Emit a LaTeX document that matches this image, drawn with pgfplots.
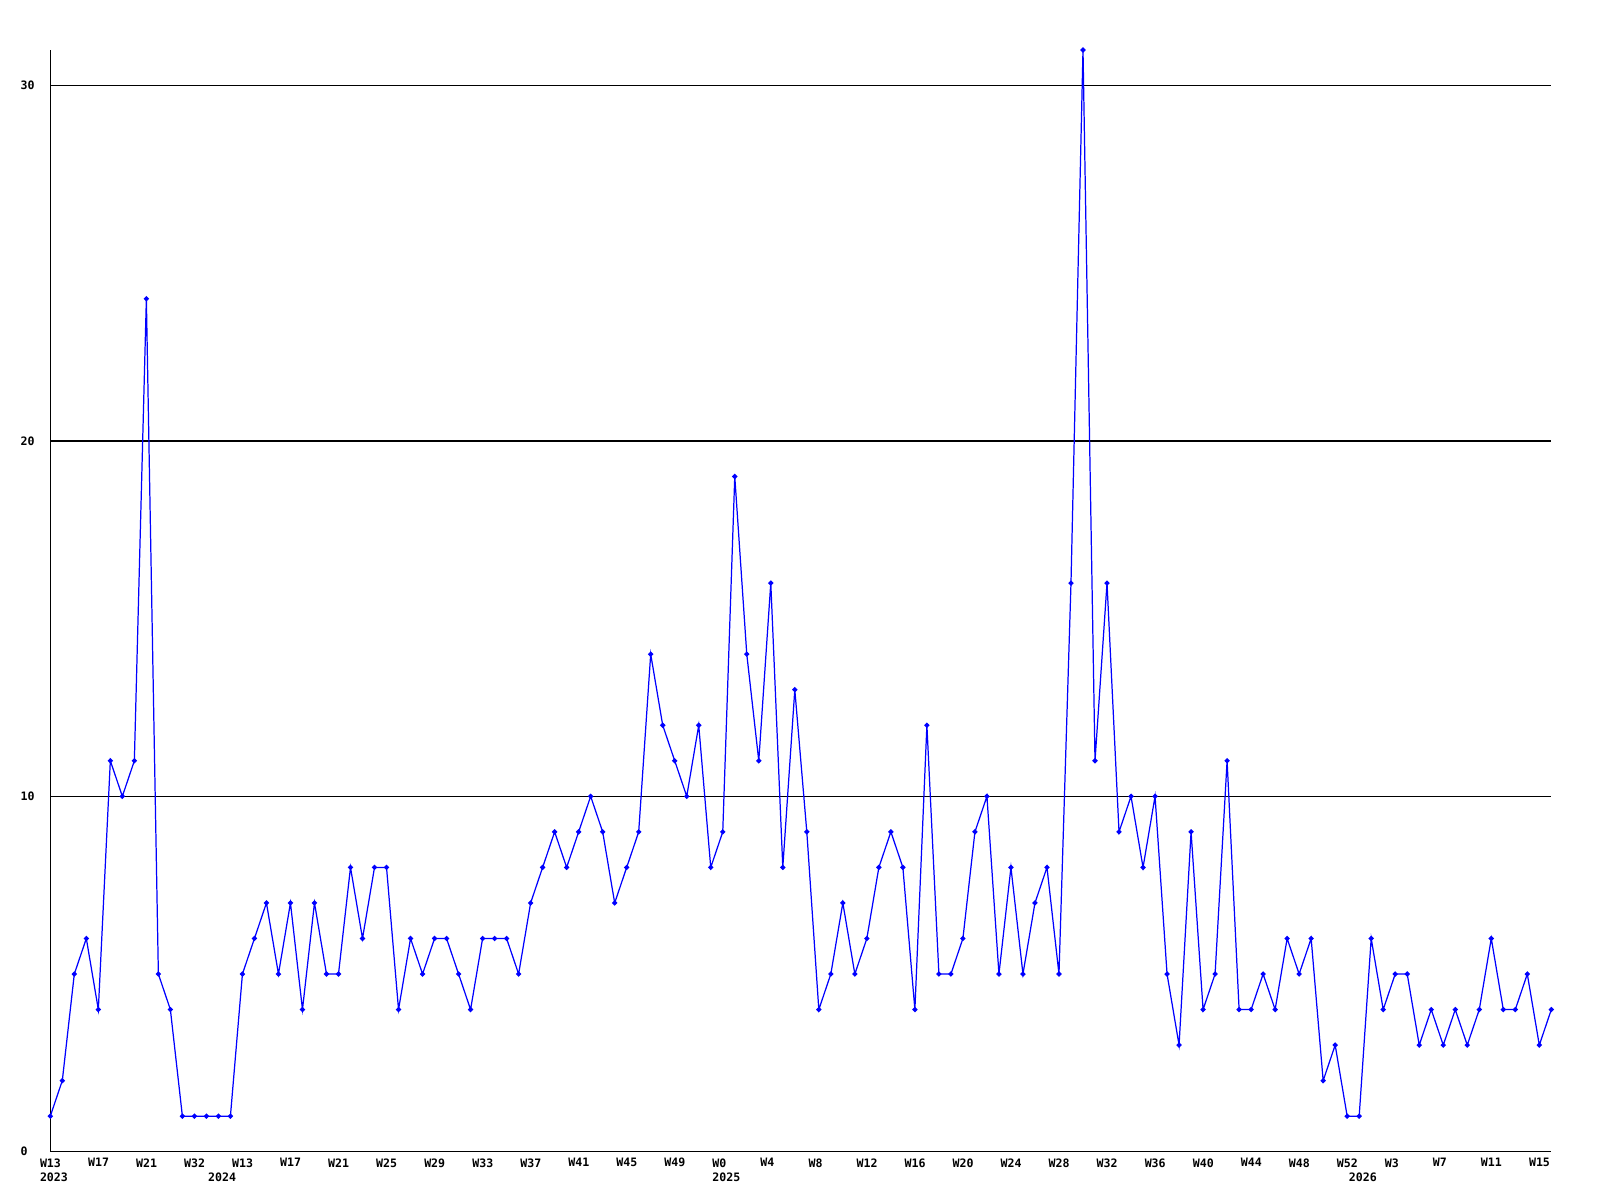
\documentclass[border=0pt]{standalone}
\usepackage{pgfplots}
\pgfplotsset{compat=1.18}
\usepackage{fontspec}
\setmonofont{DejaVu Sans Mono}
\definecolor{lineblue}{RGB}{0,0,255}

\begin{document}
\begin{tikzpicture}
\path[use as bounding box] (-0.503cm,-0.483cm) rectangle (15.497cm,11.517cm);
\begin{axis}[
    scale only axis,
    width=15.01cm, height=11.017cm,
    xmin=0, xmax=125, ymin=0, ymax=31,
    axis x line*=bottom, axis y line*=left,
    axis line style={-, black, line width=0.4pt},
    ytick={0,10,20,30},
    ymajorgrids,
    major grid style={black, line width=0.4pt},
    major tick length=0pt,
    /pgf/number format/assume math mode=true,
    xtick={0,4,...,124},
    xticklabels={W13,W17,W21,W32,W13,W17,W21,W25,W29,W33,W37,W41,W45,W49,
                 W0,W4,W8,W12,W16,W20,W24,W28,W32,W36,W40,W44,W48,W52,W3,W7,W11,W15},
    extra x ticks={0,14,56,109},
    extra x tick labels={2023,2024,2025,2026},
    extra x tick style={xticklabel style={yshift=-0.147cm}},
    ticklabel style={font=\ttfamily\bfseries\fontsize{3.3}{4}\selectfont, inner sep=0pt},
    xticklabel style={anchor=north west, xshift=-0.11cm, yshift=-0.06cm},
    yticklabel style={anchor=west, xshift=-0.303cm},
    clip=false,
]
% weekly counts, one point per week
\addplot[lineblue, line width=0.35pt, mark=*, mark size=0.55pt] coordinates {
    (0,1) (1,2) (2,5) (3,6) (4,4) (5,11) (6,10) (7,11) (8,24) (9,5)
    (10,4) (11,1) (12,1) (13,1) (14,1) (15,1) (16,5) (17,6) (18,7) (19,5)
    (20,7) (21,4) (22,7) (23,5) (24,5) (25,8) (26,6) (27,8) (28,8) (29,4)
    (30,6) (31,5) (32,6) (33,6) (34,5) (35,4) (36,6) (37,6) (38,6) (39,5)
    (40,7) (41,8) (42,9) (43,8) (44,9) (45,10) (46,9) (47,7) (48,8) (49,9)
    (50,14) (51,12) (52,11) (53,10) (54,12) (55,8) (56,9) (57,19) (58,14) (59,11)
    (60,16) (61,8) (62,13) (63,9) (64,4) (65,5) (66,7) (67,5) (68,6) (69,8)
    (70,9) (71,8) (72,4) (73,12) (74,5) (75,5) (76,6) (77,9) (78,10) (79,5)
    (80,8) (81,5) (82,7) (83,8) (84,5) (85,16) (86,31) (87,11) (88,16) (89,9)
    (90,10) (91,8) (92,10) (93,5) (94,3) (95,9) (96,4) (97,5) (98,11) (99,4)
    (100,4) (101,5) (102,4) (103,6) (104,5) (105,6) (106,2) (107,3) (108,1) (109,1)
    (110,6) (111,4) (112,5) (113,5) (114,3) (115,4) (116,3) (117,4) (118,3) (119,4)
    (120,6) (121,4) (122,4) (123,5) (124,3) (125,4)
};
\end{axis}
\end{tikzpicture}
\end{document}
